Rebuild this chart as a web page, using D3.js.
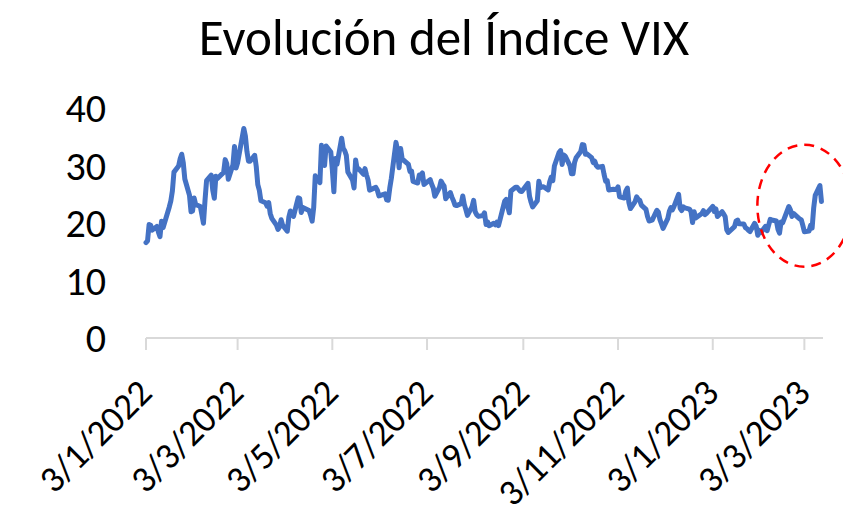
<!DOCTYPE html>
<html>
<head>
<meta charset="utf-8">
<script src="https://cdn.jsdelivr.net/npm/d3@7"></script>
<style>
  body { margin: 0; background: #fff; }
  svg text { font-family: Carlito, Calibri, Lato, sans-serif; fill: #000; }
</style>
</head>
<body>
<div id="chart"></div>
<script>
var titulo = 'Evolución del Índice VIX';

// cierres diarios del VIX (ene 2022 - mar 2023)
var fechas = [
  '2022-01-03','2022-01-04','2022-01-05','2022-01-06','2022-01-07','2022-01-10','2022-01-11','2022-01-12','2022-01-13','2022-01-14',
  '2022-01-18','2022-01-19','2022-01-20','2022-01-21','2022-01-24','2022-01-25','2022-01-26','2022-01-27','2022-01-28','2022-01-31',
  '2022-02-01','2022-02-02','2022-02-03','2022-02-04','2022-02-07','2022-02-08','2022-02-09','2022-02-10','2022-02-11','2022-02-14',
  '2022-02-15','2022-02-16','2022-02-17','2022-02-18','2022-02-22','2022-02-23','2022-02-24','2022-02-25','2022-02-28',
  '2022-03-01','2022-03-02','2022-03-03','2022-03-04','2022-03-07','2022-03-08','2022-03-09','2022-03-10','2022-03-11','2022-03-14',
  '2022-03-15','2022-03-16','2022-03-17','2022-03-18','2022-03-21','2022-03-22','2022-03-23','2022-03-24','2022-03-25','2022-03-28',
  '2022-03-29','2022-03-30','2022-03-31',
  '2022-04-01','2022-04-04','2022-04-05','2022-04-06','2022-04-07','2022-04-08','2022-04-11','2022-04-12','2022-04-13','2022-04-14',
  '2022-04-18','2022-04-19','2022-04-20','2022-04-21','2022-04-22','2022-04-25','2022-04-26','2022-04-27','2022-04-28','2022-04-29',
  '2022-05-02','2022-05-03','2022-05-04','2022-05-05','2022-05-06','2022-05-09','2022-05-10','2022-05-11','2022-05-12','2022-05-13',
  '2022-05-16','2022-05-17','2022-05-18','2022-05-19','2022-05-20','2022-05-23','2022-05-24','2022-05-25','2022-05-26','2022-05-27',
  '2022-05-31',
  '2022-06-01','2022-06-02','2022-06-03','2022-06-06','2022-06-07','2022-06-08','2022-06-09','2022-06-10','2022-06-13','2022-06-14',
  '2022-06-15','2022-06-16','2022-06-17','2022-06-21','2022-06-22','2022-06-23','2022-06-24','2022-06-27','2022-06-28','2022-06-29',
  '2022-06-30',
  '2022-07-01','2022-07-05','2022-07-06','2022-07-07','2022-07-08','2022-07-11','2022-07-12','2022-07-13','2022-07-14','2022-07-15',
  '2022-07-18','2022-07-19','2022-07-20','2022-07-21','2022-07-22','2022-07-25','2022-07-26','2022-07-27','2022-07-28','2022-07-29',
  '2022-08-01','2022-08-02','2022-08-03','2022-08-04','2022-08-05','2022-08-08','2022-08-09','2022-08-10','2022-08-11','2022-08-12',
  '2022-08-15','2022-08-16','2022-08-17','2022-08-18','2022-08-19','2022-08-22','2022-08-23','2022-08-24','2022-08-25','2022-08-26',
  '2022-08-29','2022-08-30','2022-08-31',
  '2022-09-01','2022-09-02','2022-09-06','2022-09-07','2022-09-08','2022-09-09','2022-09-12','2022-09-13','2022-09-14','2022-09-15',
  '2022-09-16','2022-09-19','2022-09-20','2022-09-21','2022-09-22','2022-09-23','2022-09-26','2022-09-27','2022-09-28','2022-09-29',
  '2022-09-30',
  '2022-10-03','2022-10-04','2022-10-05','2022-10-06','2022-10-07','2022-10-10','2022-10-11','2022-10-12','2022-10-13','2022-10-14',
  '2022-10-17','2022-10-18','2022-10-19','2022-10-20','2022-10-21','2022-10-24','2022-10-25','2022-10-26','2022-10-27','2022-10-28',
  '2022-10-31',
  '2022-11-01','2022-11-02','2022-11-03','2022-11-04','2022-11-07','2022-11-08','2022-11-09','2022-11-10','2022-11-11','2022-11-14',
  '2022-11-15','2022-11-16','2022-11-17','2022-11-18','2022-11-21','2022-11-22','2022-11-23','2022-11-25','2022-11-28','2022-11-29',
  '2022-11-30',
  '2022-12-01','2022-12-02','2022-12-05','2022-12-06','2022-12-07','2022-12-08','2022-12-09','2022-12-12','2022-12-13','2022-12-14',
  '2022-12-15','2022-12-16','2022-12-19','2022-12-20','2022-12-21','2022-12-22','2022-12-23','2022-12-27','2022-12-28','2022-12-29',
  '2022-12-30',
  '2023-01-03','2023-01-04','2023-01-05','2023-01-06','2023-01-09','2023-01-10','2023-01-11','2023-01-12','2023-01-13','2023-01-17',
  '2023-01-18','2023-01-19','2023-01-20','2023-01-23','2023-01-24','2023-01-25','2023-01-26','2023-01-27','2023-01-30','2023-01-31',
  '2023-02-01','2023-02-02','2023-02-03','2023-02-06','2023-02-07','2023-02-08','2023-02-09','2023-02-10','2023-02-13','2023-02-14',
  '2023-02-15','2023-02-16','2023-02-17','2023-02-21','2023-02-22','2023-02-23','2023-02-24','2023-02-27','2023-02-28',
  '2023-03-01','2023-03-02','2023-03-03','2023-03-06','2023-03-07','2023-03-08','2023-03-09','2023-03-10','2023-03-13','2023-03-14'
];

var vix = [
  16.60,16.91,19.73,19.61,18.76,19.40,18.41,17.62,20.31,19.19,
  22.79,23.85,25.59,28.85,29.90,31.16,31.96,30.49,27.66,24.83,
  21.96,22.09,24.35,23.22,22.86,21.44,19.96,23.91,27.36,28.33,
  25.70,24.29,28.11,27.75,28.81,31.02,30.32,27.59,30.15,
  33.32,29.57,30.48,31.98,36.45,35.13,32.45,30.75,30.75,31.77,
  29.83,26.67,25.67,23.87,23.53,22.94,23.57,21.67,20.81,19.63,
  18.90,19.33,20.56,
  19.63,18.57,21.03,22.10,21.55,21.16,24.37,24.26,21.82,22.70,
  22.17,21.37,20.32,22.68,28.21,27.02,33.52,31.60,29.99,33.40,
  32.34,29.25,25.42,31.20,30.19,34.75,32.99,32.56,31.77,28.87,
  27.47,26.10,30.96,29.35,29.43,28.48,29.45,28.37,27.50,25.72,
  26.19,
  25.69,24.72,24.79,25.07,24.02,23.96,26.09,27.75,34.02,32.69,
  29.62,32.95,31.13,30.19,28.95,29.05,27.23,26.95,28.36,28.16,
  28.71,
  26.70,27.54,26.73,26.08,24.64,26.17,27.29,26.82,26.40,24.23,
  25.30,24.50,23.88,23.11,23.03,23.36,24.69,23.24,22.33,21.33,
  22.84,23.93,21.95,21.44,21.15,21.29,21.77,19.74,20.20,19.53,
  19.95,19.69,20.14,19.56,20.60,23.80,24.11,22.82,21.78,25.56,
  26.21,26.21,25.87,
  25.56,25.47,26.91,24.64,23.61,22.79,23.87,27.27,26.16,26.27,
  26.30,25.76,27.16,27.99,27.35,29.92,32.26,32.60,30.18,31.84,
  31.62,
  29.98,28.55,28.55,30.52,31.36,32.45,33.63,33.57,31.94,32.02,
  31.37,30.50,30.76,29.98,29.69,29.85,28.46,27.28,27.39,25.75,
  25.88,
  25.81,25.86,26.27,24.55,24.35,25.54,26.09,23.53,22.52,23.73,
  24.54,24.11,23.93,23.12,22.36,21.13,20.35,20.50,22.21,21.89,
  20.58,
  19.84,19.06,20.75,22.01,22.68,22.29,22.83,25.00,22.55,22.17,
  22.83,22.62,22.42,21.97,20.07,21.97,20.87,21.65,22.14,21.44,
  21.67,
  22.90,22.01,22.46,21.13,21.97,21.58,21.09,18.83,18.35,19.36,
  20.34,20.52,19.85,19.81,19.20,19.03,18.73,18.51,19.94,19.40,
  17.87,18.73,18.33,19.43,18.66,19.63,20.63,20.53,20.34,18.91,
  18.23,20.17,20.02,22.87,22.29,21.14,21.67,20.95,20.70,
  20.58,19.59,18.49,18.61,19.59,19.11,22.61,24.80,26.52,23.73
];

var ticksX = ['2022-01-03','2022-03-03','2022-05-03','2022-07-03','2022-09-03','2022-11-03','2023-01-03','2023-03-03'];
var ticksY = [0, 10, 20, 30, 40];

// zona destacada (marzo 2023)
var foco = { fecha: '2023-03-03', valor: 23 };

var W = 843, H = 519;
var parse = d3.timeParse('%Y-%m-%d'),
    fmt = d3.timeFormat('%-d/%-m/%Y');

var data = fechas.map(function(f, i) { return { d: parse(f), v: vix[i] }; });

var x = d3.scaleTime()
    .domain([parse('2022-01-03'), parse('2023-03-15')])
    .range([146, 823]);
var y = d3.scaleLinear().domain([0, 40]).range([338, 108]);

var svg = d3.select('#chart').append('svg')
    .attr('width', W)
    .attr('height', H);

svg.append('text')
    .attr('x', 444)
    .attr('y', 55)
    .attr('text-anchor', 'middle')
    .style('font-size', '51px')
    .text(titulo);

// eje Y (solo etiquetas)
svg.append('g').selectAll('text')
    .data(ticksY)
    .enter().append('text')
    .attr('x', 106)
    .attr('y', function(d) { return y(d) + 14; })
    .attr('text-anchor', 'end')
    .style('font-size', '40px')
    .text(function(d) { return d; });

// eje X
var ax = svg.append('g');
ax.append('line')
    .attr('x1', 146).attr('x2', 823)
    .attr('y1', y(0)).attr('y2', y(0))
    .attr('stroke', '#d9d9d9')
    .attr('stroke-width', 2);

ax.selectAll('line.tick')
    .data(ticksX)
    .enter().append('line')
    .attr('class', 'tick')
    .attr('x1', function(d) { return x(parse(d)); })
    .attr('x2', function(d) { return x(parse(d)); })
    .attr('y1', y(0))
    .attr('y2', y(0) + 12)
    .attr('stroke', '#d9d9d9')
    .attr('stroke-width', 2);

ax.selectAll('text')
    .data(ticksX)
    .enter().append('text')
    .attr('text-anchor', 'end')
    .attr('transform', function(d) {
        return 'translate(' + (x(parse(d)) + 8) + ',' + (y(0) + 57) + ') rotate(-45)';
    })
    .style('font-size', '37px')
    .text(function(d) { return fmt(parse(d)); });

var line = d3.line()
    .x(function(d) { return x(d.d); })
    .y(function(d) { return y(d.v); })
    .curve(d3.curveLinear);

svg.append('path')
    .datum(data)
    .attr('d', line)
    .attr('fill', 'none')
    .attr('stroke', '#4472c4')
    .attr('stroke-width', 5)
    .attr('stroke-linejoin', 'round')
    .attr('stroke-linecap', 'round');

svg.append('ellipse')
    .attr('cx', x(parse(foco.fecha)))
    .attr('cy', y(foco.valor))
    .attr('rx', 47)
    .attr('ry', 61)
    .attr('fill', 'none')
    .attr('stroke', '#ff0000')
    .attr('stroke-width', 2.5)
    .attr('stroke-dasharray', '10,7');
</script>
</body>
</html>
